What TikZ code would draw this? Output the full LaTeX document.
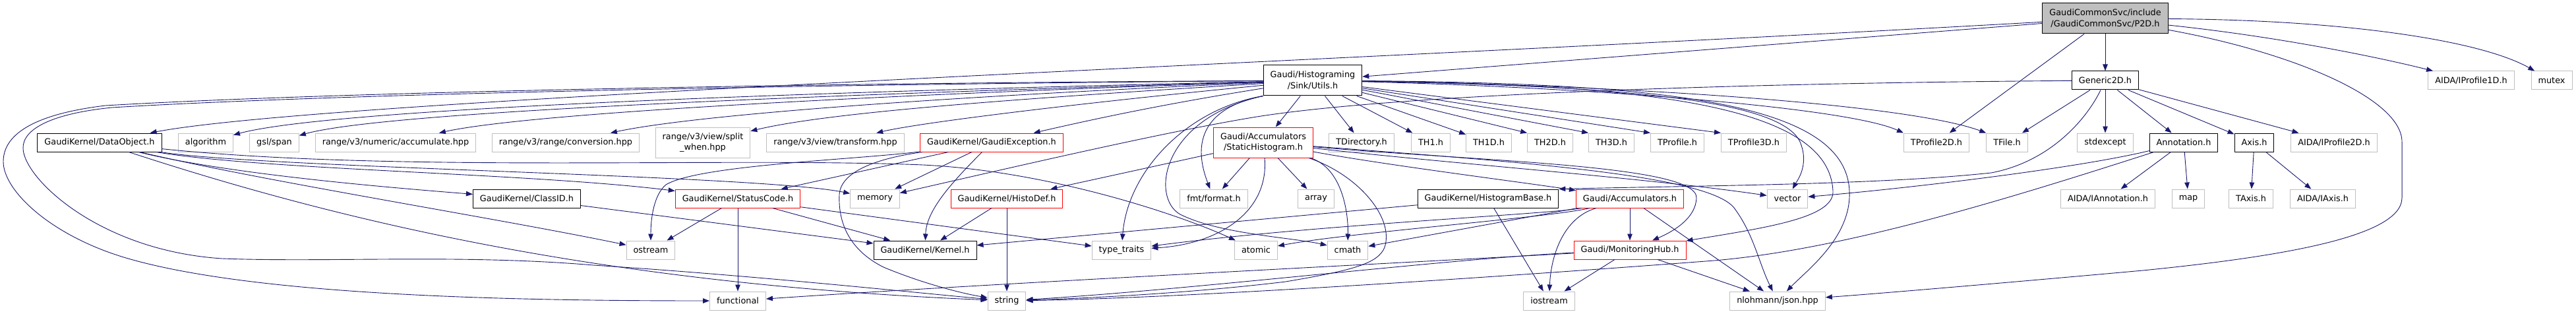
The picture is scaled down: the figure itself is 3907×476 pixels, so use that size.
\documentclass[tikz,border=0pt]{standalone}
\usepackage{fontspec}
\newfontfamily\dxfont{DejaVu Sans}
\usetikzlibrary{arrows.meta}
\definecolor{linkblue}{HTML}{191970}
\definecolor{boxgrey}{HTML}{BFBFBF}
\definecolor{truncred}{HTML}{FF0000}

\begin{document}
\begin{tikzpicture}[x=1pt,y=-1pt,
    filebox/.style={draw, fill=white, line width=1pt, font=\dxfont\fontsize{12.85pt}{16.7pt}\selectfont,
        inner xsep=10.5pt, inner ysep=0pt, minimum height=28pt},
    ext/.style={filebox, draw=boxgrey},
    doc/.style={filebox, draw=black},
    trunc/.style={filebox, draw=truncred},
    rootfile/.style={filebox, draw=black, fill=boxgrey},
    twoline/.style={align=center, minimum height=46pt},
    dep/.style={draw=linkblue, line width=0.9pt, -{Triangle[length=10pt,width=7.5pt]}}]
    \useasboundingbox (0,0) rectangle (3907,476);

        \node[rootfile,twoline] (p2d) at (3193,28) {GaudiCommonSvc/include\\/GaudiCommonSvc/P2D.h};

        \node[doc,twoline] (utils) at (1991,122) {Gaudi/Histograming\\/Sink/Utils.h};
        \node[doc] (generic) at (3193,122) {Generic2D.h};
        \node[ext] (iprofone) at (3748,122) {AIDA/IProfile1D.h};
        \node[ext] (mutex) at (3870,122) {mutex};

        \node[doc] (dataobj) at (151,216) {GaudiKernel/DataObject.h};
        \node[ext] (algo) at (312,216) {algorithm};
        \node[ext] (gslspan) at (416,216) {gsl/span};
        \node[ext] (accum) at (600,216) {range/v3/numeric/accumulate.hpp};
        \node[ext] (convers) at (858,216) {range/v3/range/conversion.hpp};
        \node[ext,twoline] (splitwhen) at (1066,216) {range/v3/view/split\\\_when.hpp};
        \node[ext] (transf) at (1267,216) {range/v3/view/transform.hpp};
        \node[trunc] (gaudiexc) at (1504,216) {GaudiKernel/GaudiException.h};
        \node[trunc,twoline] (stathist) at (1916,216) {Gaudi/Accumulators\\/StaticHistogram.h};
        \node[ext] (tdir) at (2065,216) {TDirectory.h};
        \node[ext] (thone) at (2170,216) {TH1.h};
        \node[ext] (thoned) at (2258,216) {TH1D.h};
        \node[ext] (thtwod) at (2351,216) {TH2D.h};
        \node[ext] (ththreed) at (2444,216) {TH3D.h};
        \node[ext] (tprof) at (2544,216) {TProfile.h};
        \node[ext] (tprofthree) at (2660,216) {TProfile3D.h};
        \node[ext] (tproftwo) at (2937,216) {TProfile2D.h};
        \node[ext] (tfile) at (3044,216) {TFile.h};
        \node[ext] (stdexc) at (3193,216) {stdexcept};
        \node[doc] (annot) at (3312,216) {Annotation.h};
        \node[doc] (axis) at (3419,216) {Axis.h};
        \node[ext] (iproftwo) at (3540,216) {AIDA/IProfile2D.h};

        \node[doc] (classid) at (799,301) {GaudiKernel/ClassID.h};
        \node[trunc] (statcode) at (1119,301) {GaudiKernel/StatusCode.h};
        \node[ext] (memory) at (1327,301) {memory};
        \node[trunc] (histodef) at (1527,301) {GaudiKernel/HistoDef.h};
        \node[ext] (fmt) at (1841,301) {fmt/format.h};
        \node[ext] (array) at (1996,301) {array};
        \node[doc] (histbase) at (2257,301) {GaudiKernel/HistogramBase.h};
        \node[trunc] (accums) at (2472,301) {Gaudi/Accumulators.h};
        \node[ext] (vector) at (2711,301) {vector};
        \node[ext] (iannot) at (3197,301) {AIDA/IAnnotation.h};
        \node[ext] (map) at (3319,301) {map};
        \node[ext] (taxis) at (3414,301) {TAxis.h};
        \node[ext] (iaxis) at (3523,301) {AIDA/IAxis.h};

        \node[ext] (ostream) at (987,379) {ostream};
        \node[doc] (kernel) at (1403,379) {GaudiKernel/Kernel.h};
        \node[ext] (typetr) at (1701,379) {type\_traits};
        \node[ext] (atomic) at (1905,379) {atomic};
        \node[ext] (cmath) at (2044,379) {cmath};
        \node[trunc] (monhub) at (2472,379) {Gaudi/MonitoringHub.h};

        \node[ext] (functional) at (1119,456) {functional};
        \node[ext] (string) at (1527,456) {string};
        \node[ext] (iostream) at (2349.5,456) {iostream};
        \node[ext] (json) at (2696,456) {nlohmann/json.hpp};

        \draw[dep] (p2d) -- (utils);
        \draw[dep] (p2d) -- (generic);
        \draw[dep] (p2d) -- (tproftwo);
        \draw[dep] (p2d) .. controls (3450,55) and (3600,85) .. (iprofone);
        \draw[dep] (p2d) .. controls (3550,30) and (3760,60) .. (mutex);
        \draw[dep] (p2d) .. controls (2000,95) and (500,150) .. (dataobj);
        \draw[dep] (p2d) .. controls (3480,80) and (3643,150) .. (3643,215) -- (3643,300)
            .. controls (3643,360) and (3450,390) .. (3250,410) .. controls (3050,428) and (2850,445) .. (json);

        \draw[dep] (utils) .. controls (1200,140) and (500,165) .. (algo);
        \draw[dep] (utils) .. controls (1200,145) and (580,170) .. (gslspan);
        \draw[dep] (utils) .. controls (1300,145) and (800,172) .. (accum);
        \draw[dep] (utils) .. controls (1400,148) and (1050,175) .. (convers);
        \draw[dep] (utils) .. controls (1500,152) and (1250,172) .. (splitwhen);
        \draw[dep] (utils) .. controls (1650,155) and (1400,185) .. (transf);
        \draw[dep] (utils) .. controls (1750,160) and (1640,185) .. (gaudiexc);
        \draw[dep] (utils) -- (stathist);
        \draw[dep] (utils) -- (tdir);
        \draw[dep] (utils) -- (thone);
        \draw[dep] (utils) -- (thoned);
        \draw[dep] (utils) -- (thtwod.north west);
        \draw[dep] (utils) -- (ththreed.north west);
        \draw[dep] (utils) -- (tprof.north west);
        \draw[dep] (utils) -- (tprofthree.north west);
        \draw[dep] (utils) .. controls (2400,132) and (2800,162) .. (tproftwo.north west);
        \draw[dep] (utils) .. controls (2500,130) and (2900,160) .. (tfile.north west);
        \draw[dep] (utils) .. controls (2450,130) and (2700,150) .. (2730,215) .. controls (2745,250) and (2725,275) .. (vector);
        \draw[dep] (utils) .. controls (2500,128) and (2775,160) .. (2780,290) .. controls (2782,330) and (2680,345) .. (monhub);
        \draw[dep] (utils) .. controls (2550,126) and (2800,160) .. (2805,290) .. controls (2808,360) and (2740,410) .. (json);
        \draw[dep] (utils.south west) .. controls (1850,158) and (1800,195) .. (fmt);
        \draw[dep] (utils.south west) .. controls (1800,165) and (1710,260) .. (typetr);
        \draw[dep] (utils.south west) .. controls (1760,180) and (1745,300) .. (1790,325) .. controls (1850,355) and (1960,360) .. (cmath);
        \draw[dep] (utils) .. controls (1200,126) and (500,140) .. (160,160) .. controls (60,172) and (5,200) .. (5,245)
            .. controls (5,290) and (80,360) .. (198,393) .. controls (400,450) and (800,456) .. (functional);
        \draw[dep] (utils) .. controls (1200,128) and (500,143) .. (170,163) .. controls (80,172) and (34,195) .. (35,225)
            .. controls (36,270) and (150,380) .. (337,392) .. controls (500,398) and (700,385) .. (900,402)
            .. controls (1150,418) and (1400,445) .. (string);

        \draw[dep] (generic) -- (tfile);
        \draw[dep] (generic) -- (stdexc);
        \draw[dep] (generic) -- (annot);
        \draw[dep] (generic) -- (axis);
        \draw[dep] (generic) -- (iproftwo);
        \draw[dep] (generic) .. controls (2600,126) and (2100,145) .. (1900,178) .. controls (1750,203) and (1500,262) .. (memory);
        \draw[dep] (generic) .. controls (3165,180) and (3110,245) .. (3020,262) .. controls (2850,280) and (2600,281) .. (histbase.north east);

        \draw[dep] (annot) -- (iannot);
        \draw[dep] (annot) -- (map);
        \draw[dep] (annot) .. controls (3150,255) and (2900,285) .. (vector);
        \draw[dep] (annot) .. controls (3050,300) and (2800,378) .. (2600,395) .. controls (2300,418) and (1800,452) .. (string);

        \draw[dep] (axis) -- (taxis);
        \draw[dep] (axis) -- (iaxis);

        \draw[dep] (dataobj) .. controls (350,265) and (600,285) .. (classid);
        \draw[dep] (dataobj) .. controls (400,258) and (800,262) .. (statcode);
        \draw[dep] (dataobj) .. controls (400,255) and (1150,265) .. (memory);
        \draw[dep] (dataobj) .. controls (600,262) and (1100,238) .. (1400,250) .. controls (1600,260) and (1800,330) .. (atomic);
        \draw[dep] (dataobj) .. controls (400,275) and (750,330) .. (ostream);
        \draw[dep] (dataobj) .. controls (500,330) and (900,430) .. (string);

        \draw[dep] (classid) -- (kernel);

        \draw[dep] (statcode) -- (ostream);
        \draw[dep] (statcode) -- (functional);
        \draw[dep] (statcode) -- (kernel);
        \draw[dep] (statcode) -- (typetr);

        \draw[dep] (gaudiexc) -- (statcode);
        \draw[dep] (gaudiexc) .. controls (1300,242) and (1060,250) .. (1010,280) .. controls (992,295) and (987,330) .. (ostream);
        \draw[dep] (gaudiexc) -- (memory);
        \draw[dep] (gaudiexc) .. controls (1440,280) and (1405,320) .. (kernel);
        \draw[dep] (gaudiexc) .. controls (1330,240) and (1275,260) .. (1273,295) .. controls (1271,340) and (1290,380) .. (1340,405)
            .. controls (1400,430) and (1460,445) .. (string);

        \draw[dep] (histodef) -- (kernel);
        \draw[dep] (histodef) -- (string);

        \draw[dep] (stathist) -- (histodef);
        \draw[dep] (stathist) -- (fmt);
        \draw[dep] (stathist) .. controls (1925,320) and (1850,370) .. (typetr);
        \draw[dep] (stathist) -- (array);
        \draw[dep] (stathist) .. controls (2035,255) and (2045,320) .. (cmath);
        \draw[dep] (stathist) .. controls (2060,265) and (2115,330) .. (2100,375) .. controls (2090,400) and (2050,410) .. (1950,427)
            .. controls (1800,445) and (1650,452) .. (string);
        \draw[dep] (stathist) .. controls (2100,250) and (2300,275) .. (accums);
        \draw[dep] (stathist) .. controls (2250,245) and (2575,250) .. (2573,300) .. controls (2572,330) and (2540,350) .. (monhub);
        \draw[dep] (stathist) .. controls (2200,248) and (2500,270) .. (vector);
        \draw[dep] (stathist) .. controls (2300,245) and (2590,265) .. (2630,315) .. controls (2660,355) and (2668,400) .. (json);

        \draw[dep] (accums) .. controls (2350,325) and (2000,340) .. (typetr);
        \draw[dep] (accums) .. controls (2350,330) and (2050,352) .. (atomic);
        \draw[dep] (accums) -- (cmath);
        \draw[dep] (accums) .. controls (2370,330) and (2352,390) .. (iostream);
        \draw[dep] (accums) -- (monhub);
        \draw[dep] (accums) -- (json);

        \draw[dep] (histbase) -- (kernel);
        \draw[dep] (histbase) -- (iostream);

        \draw[dep] (monhub) -- (iostream);
        \draw[dep] (monhub) -- (json);
        \draw[dep] (monhub) .. controls (2200,392) and (1800,440) .. (string);
        \draw[dep] (monhub) .. controls (2100,400) and (1500,430) .. (functional);
\end{tikzpicture}
\end{document}
